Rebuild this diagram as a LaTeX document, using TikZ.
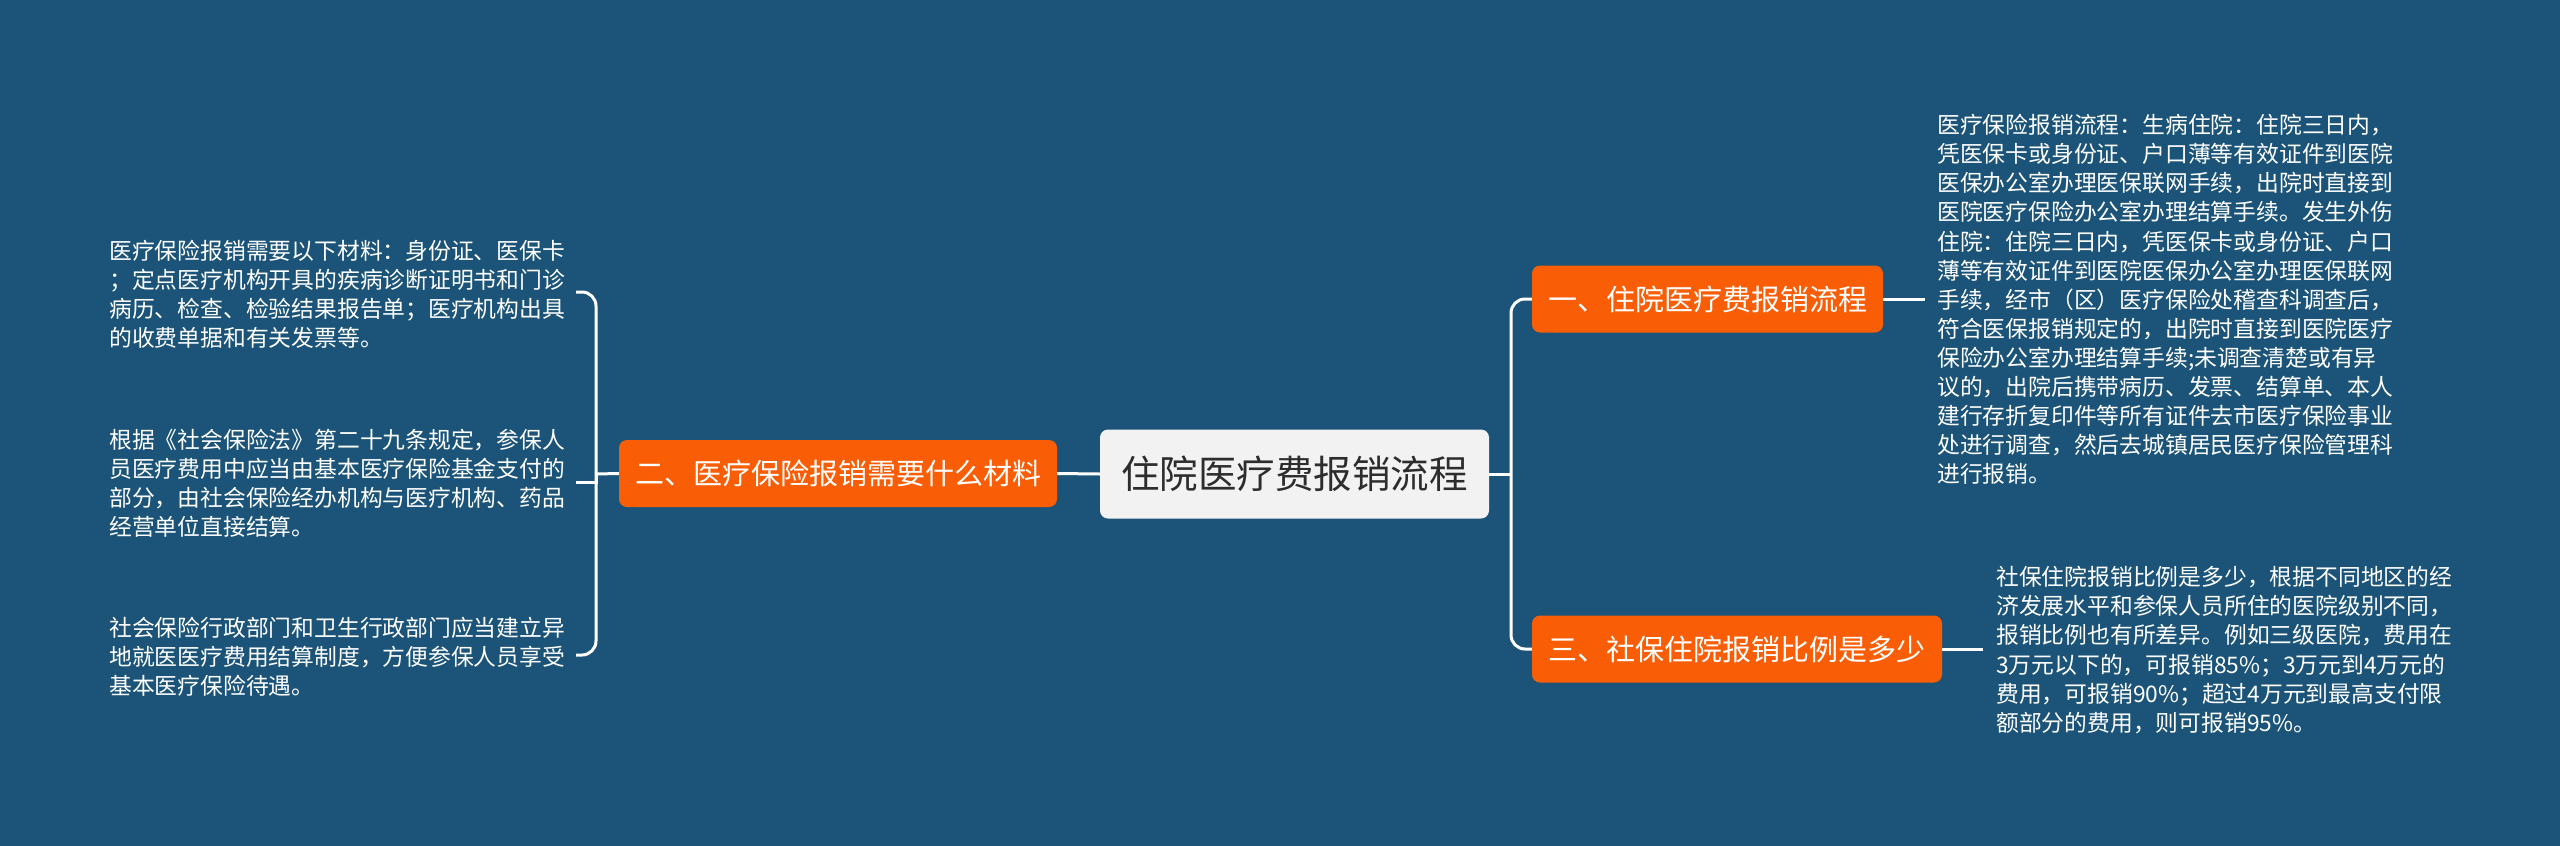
\documentclass[tikz,border=0pt]{standalone}
\usepackage{fontspec}
\setmainfont{Noto Sans CJK SC}
\definecolor{bg}{RGB}{27,84,120}
\definecolor{orng}{RGB}{249,94,6}
\definecolor{cgray}{RGB}{242,242,242}
\definecolor{ctext}{RGB}{45,45,45}
\begin{document}
\begin{tikzpicture}[x=1pt,y=-1pt,
  rootbox/.style={fill=cgray,rounded corners=8pt,inner sep=0pt,minimum width=389pt,minimum height=89pt,text=ctext,font=\fontsize{38.5pt}{44pt}\selectfont},
  topicbox/.style={fill=orng,rounded corners=8pt,inner sep=0pt,minimum height=67pt,text=white,font=\fontsize{29pt}{34pt}\selectfont},
  leaftext/.style={anchor=west,align=left,inner sep=0pt,text=white,font=\fontsize{22.8pt}{29.1pt}\selectfont},
  link/.style={draw=white,line width=3pt},
  bracket/.style={draw=white,line width=3pt,rounded corners=14pt}
]
\fill[bg] (0,0) rectangle (2560,846);
\useasboundingbox (0,0) rectangle (2560,846);

\node[rootbox] (root) at (1294.5,474) {住院医疗费报销流程};
\node[topicbox,minimum width=438pt] (b2) at (838,473.5) {二、医疗保险报销需要什么材料};
\node[topicbox,minimum width=351pt] (b1) at (1707.5,299) {一、住院医疗费报销流程};
\node[topicbox,minimum width=410pt] (b3) at (1737,649) {三、社保住院报销比例是多少};

\node[leaftext] (t1) at (1937,299.5) {医疗保险报销流程：生病住院：住院三日内，\\凭医保卡或身份证、户口薄等有效证件到医院\\医保办公室办理医保联网手续，出院时直接到\\医院医疗保险办公室办理结算手续。发生外伤\\住院：住院三日内，凭医保卡或身份证、户口\\薄等有效证件到医院医保办公室办理医保联网\\手续，经市（区）医疗保险处稽查科调查后，\\符合医保报销规定的，出院时直接到医院医疗\\保险办公室办理结算手续;未调查清楚或有异\\议的，出院后携带病历、发票、结算单、本人\\建行存折复印件等所有证件去市医疗保险事业\\处进行调查，然后去城镇居民医疗保险管理科\\进行报销。};
\node[leaftext] (t3) at (1996,650) {社保住院报销比例是多少，根据不同地区的经\\济发展水平和参保人员所住的医院级别不同，\\报销比例也有所差异。例如三级医院，费用在\\3万元以下的，可报销85\%；3万元到4万元的\\费用，可报销90\%；超过4万元到最高支付限\\额部分的费用，则可报销95\%。};
\node[leaftext] (l1) at (109,294) {医疗保险报销需要以下材料：身份证、医保卡\\；定点医疗机构开具的疾病诊断证明书和门诊\\病历、检查、检验结果报告单；医疗机构出具\\的收费单据和有关发票等。};
\node[leaftext] (l2) at (109,483) {根据《社会保险法》第二十九条规定，参保人\\员医疗费用中应当由基本医疗保险基金支付的\\部分，由社会保险经办机构与医疗机构、药品\\经营单位直接结算。};
\node[leaftext] (l3) at (109,657) {社会保险行政部门和卫生行政部门应当建立异\\地就医医疗费用结算制度，方便参保人员享受\\基本医疗保险待遇。};

% right side
\coordinate (rj) at (1511,474);
\draw[link] (root.east) -- (rj);
\draw[bracket] (rj) |- (b1.west);
\draw[bracket] (rj) |- (b3.west);
\coordinate (t1s) at (1925,299);
\coordinate (t3s) at (1983,649);
\draw[link] (b1.east) -- (t1s);
\draw[link] (b3.east) -- (t3s);

% left side
\draw[link] (root.west) -- (b2.east);
\coordinate (lj) at (596,474);
\draw[link] (b2.west) -- (lj);
\coordinate (l1s) at (576,292);
\coordinate (l2s) at (576,482);
\coordinate (l3s) at (576,655);
\draw[bracket] (lj) |- (l1s);
\draw[link] (lj) -- (596,482) -- (l2s);
\draw[bracket] (lj) |- (l3s);
\end{tikzpicture}
\end{document}
